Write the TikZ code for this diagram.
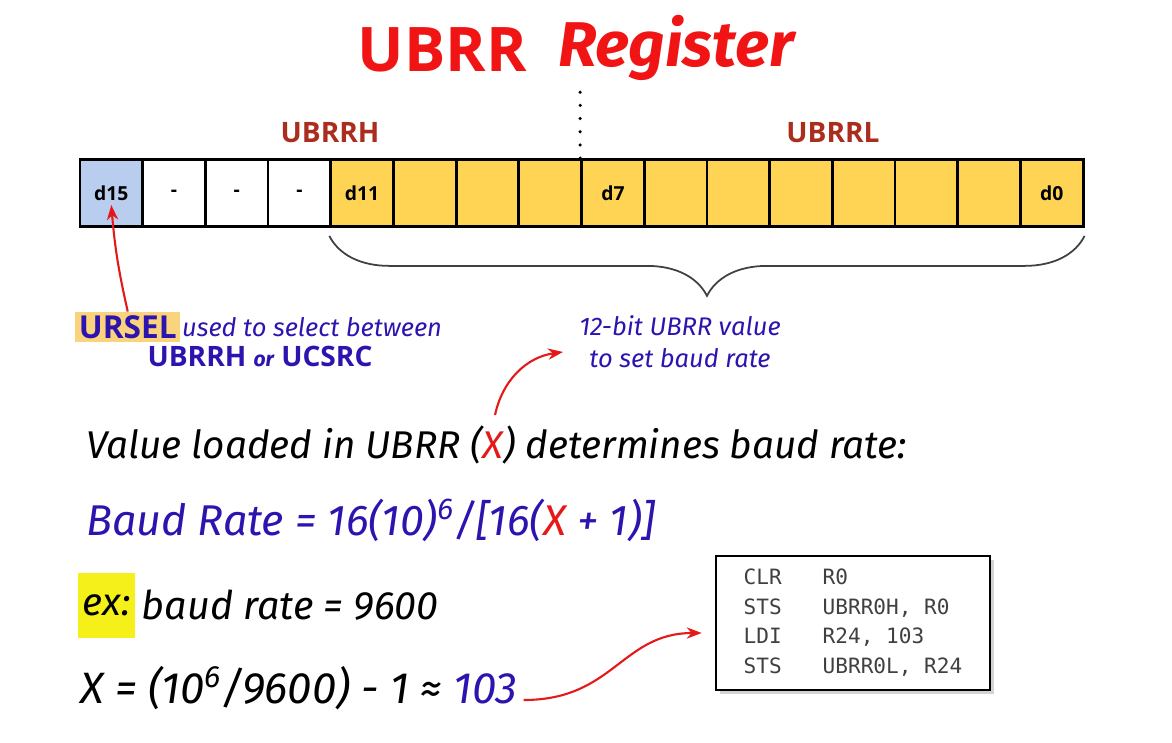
\documentclass[tikz,border=0pt]{standalone}
\usepackage{fontspec}
\setmainfont{Open Sans}
\newfontfamily\handfont{Fira Sans}
\newfontfamily\codefont{DejaVu Sans Mono}
\usepackage{xcolor}
\usetikzlibrary{decorations.pathreplacing,arrows.meta,shadows}
\definecolor{titlered}{RGB}{240,20,20}
\definecolor{labred}{RGB}{170,45,30}
\definecolor{arrred}{RGB}{230,25,25}
\definecolor{hblue}{RGB}{45,20,175}
\definecolor{cellblue}{RGB}{185,205,238}
\definecolor{cellyellow}{RGB}{255,212,85}
\definecolor{urselbg}{RGB}{250,212,125}
\definecolor{exyellow}{RGB}{245,240,25}

\begin{document}
\begin{tikzpicture}[x=0.02cm,y=-0.02cm,font=\sffamily]
  \useasboundingbox (0,0) rectangle (1172,743);
  \node[font=\bfseries\fontsize{35}{40}\selectfont,text=titlered,anchor=east] (ttl) at (533,50) {UBRR};
  \node[font=\handfont\bfseries\itshape\fontsize{36}{42}\selectfont,text=titlered,anchor=west] (reg) at (552,48) {Register};
  \node[font=\bfseries\fontsize{16}{18}\selectfont,text=labred] (hi) at (330,133) {UBRRH};
  \node[font=\bfseries\fontsize{16}{18}\selectfont,text=labred] (lo) at (833,133) {UBRRL};
  \foreach \lab/\col [count=\i from 0] in {d15/cellblue,-/white,-/white,-/white,d11/cellyellow,/cellyellow,/cellyellow,/cellyellow,
      d7/cellyellow,/cellyellow,/cellyellow,/cellyellow,/cellyellow,/cellyellow,/cellyellow,d0/cellyellow}{
    \node[draw,line width=1.6pt,fill=\col,minimum width=1.254cm,minimum height=1.34cm,inner sep=0pt,
      font=\bfseries\fontsize{11}{12}\selectfont] (c\i) at ({111.3+62.7*\i},193) {\lab};}
  \draw[line width=2pt,line cap=round,dash pattern=on 0pt off 7.5pt] (c8.north west) -- ++(0,-72);
  \draw[decorate,decoration={brace,mirror,amplitude=1.2cm},line width=1pt,black!75]
    ([yshift=-0.16cm]c4.south west) -- ([yshift=-0.16cm]c15.south east);
  % notes under the register
  \node[fill=urselbg,text=hblue,font=\bfseries\fontsize{18}{20}\selectfont,inner sep=2pt,anchor=west] (ursel) at (75,327) {URSEL};
  \node[anchor=west,text=hblue,font=\handfont\itshape\fontsize{14.5}{16}\selectfont] (sel) at (176,327) {used to select between};
  \node[text=hblue,font=\bfseries\fontsize{16}{18}\selectfont] (regs) at (260,356)
    {UBRRH {\handfont\itshape\fontsize{12}{14}\selectfont or} UCSRC};
  \draw[-{Stealth[length=3mm]},arrred,line width=1.2pt] (ursel.north) to[bend left=4] ([yshift=-0.24cm]c0.center);
  \node[text=hblue,font=\handfont\itshape\fontsize{14.5}{18}\selectfont,align=center] (val) at (680,342)
    {12-bit UBRR value\\to set baud rate};
  \node[anchor=west,font=\handfont\itshape\fontsize{22}{26}\selectfont] (load) at (80,445)
    {Value loaded in UBRR ({\color{arrred}X}) determines baud rate:};
  \coordinate (xmark) at (495,415);
  \coordinate (valtip) at (563,352);
  \draw[-{Stealth[length=3mm]},arrred,line width=1.2pt] (xmark) to[bend left=35] (valtip);
  \node[anchor=west,text=hblue,font=\handfont\itshape\fontsize{24.5}{28}\selectfont] (baud) at (80,520)
    {Baud Rate = 16(10)\textsuperscript{6}/[16({\color{arrred}X} + 1)]};
  % worked example
  \node[fill=exyellow,minimum height=1.3cm,minimum width=1.14cm,inner sep=0pt,anchor=west,
    font=\handfont\itshape\fontsize{22}{26}\selectfont] (ex) at (78,605) {ex:};
  \node[anchor=west,font=\handfont\itshape\fontsize{22.5}{26}\selectfont] (exrate) at (ex.east) {baud rate = 9600};
  \node[anchor=west,font=\handfont\itshape\fontsize{25}{28}\selectfont] (calc) at (74,688)
    {X = (10\textsuperscript{6}/9600) - 1 ≈ {\color{hblue}103}};
  \node[draw,line width=1.5pt,fill=white,drop shadow={opacity=0.35,shadow xshift=2pt,shadow yshift=-2pt},
    minimum width=5.48cm,minimum height=2.68cm,font=\codefont\fontsize{12}{17}\selectfont,text=black!75] (code) at (853,623)
    {\begin{tabular}{@{}p{45pt}@{}l@{}}
      CLR & R0\\ STS & UBRR0H, R0\\ LDI & R24, 103\\ STS & UBRR0L, R24
    \end{tabular}};
  \draw[-{Stealth[length=3mm]},arrred,line width=1.2pt] ([yshift=-0.24cm]calc.east)
    .. controls +(90,0) and +(-80,0) .. ([xshift=-0.26cm,yshift=-0.2cm]code.west);
\end{tikzpicture}
\end{document}
